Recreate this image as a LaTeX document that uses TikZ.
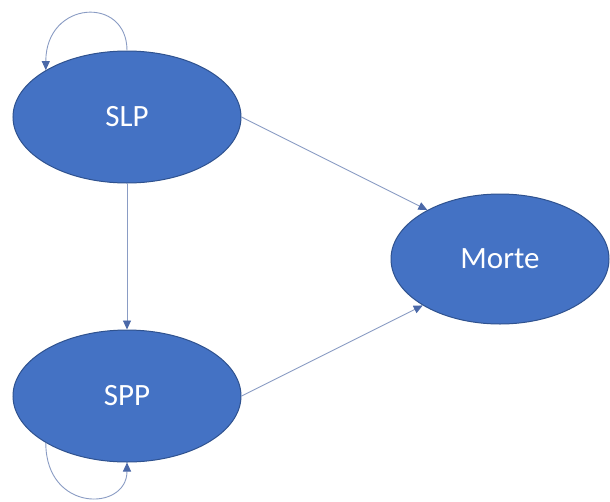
\documentclass[tikz,border=0pt]{standalone}
\usepackage{fontspec}
\setmainfont{Carlito}
\usetikzlibrary{arrows.meta,shapes.geometric}
\definecolor{statefill}{HTML}{4472C4}
\definecolor{stateedge}{HTML}{2F528F}
\definecolor{linkline}{HTML}{8A9CC4}
\definecolor{linktip}{HTML}{4A68A8}
\tikzset{
  state/.style={ellipse, fill=statefill, draw=stateedge, line width=1pt,
    inner sep=0pt, text=white, font=\fontsize{31}{36}\selectfont},
  link/.style={draw=linkline, line width=0.9pt,
    -{Triangle[length=9pt,width=8pt,color=linktip]}}
}
\begin{document}
\begin{tikzpicture}[x=1pt,y=-1pt]
  \useasboundingbox[fill=white] (0,0) rectangle (610,501);
  % states
  \node[state, minimum width=228pt, minimum height=132pt] (slp) at (127,117) {SLP};
  \node[state, minimum width=228pt, minimum height=132pt] (spp) at (127,396) {SPP};
  \node[state, minimum width=218pt, minimum height=130pt] (morte) at (500,259) {Morte};
  % transitions
  \draw[link] (slp.south) -- (spp.north);
  \draw[link] (slp.east) -- (morte.146);
  \draw[link] (spp.east) -- (morte.211);
  % self loops
  \draw[link] (slp.north) .. controls +(0,-55) and +(0,-70) .. (slp.150);
  \draw[link] (spp.210) .. controls +(0,70) and +(0,49) .. (spp.south);
\end{tikzpicture}
\end{document}
